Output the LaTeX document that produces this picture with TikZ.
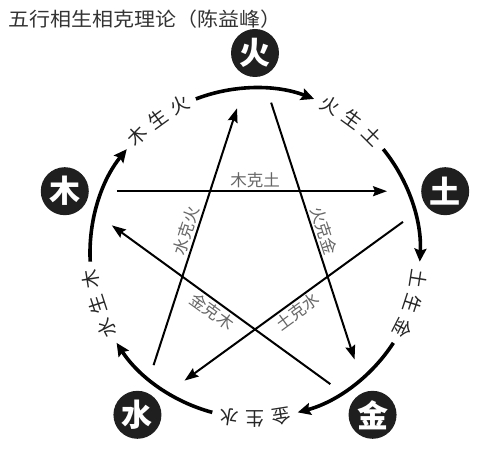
\documentclass[tikz,border=0pt]{standalone}
\usepackage{fontspec}
\usepackage{graphicx}
\newfontfamily\cjk{Noto Sans CJK SC}
\usetikzlibrary{arrows.meta}

\begin{document}
\begin{tikzpicture}[x=1pt,y=1pt,
    elem/.style={circle,fill=black!88,text=white,minimum size=48pt,inner sep=0pt,
      font=\cjk\bfseries\fontsize{31}{31}\selectfont},
    shengarc/.style={line width=3.6pt,-{Stealth[length=13pt,width=12pt,inset=2pt]}},
    kearrow/.style={line width=2pt,-{Stealth[length=14pt,width=10pt,inset=2pt]},
      shorten <=28pt,shorten >=34pt},
    kelabel/.style={sloped,pos=0.5,text=black!60,inner sep=2pt,
      font=\cjk\fontsize{16.5}{16.5}\selectfont},
    shenglabel/.style={text=black!85,inner sep=0pt,font=\cjk\fontsize{19}{19}\selectfont}]
  \useasboundingbox (-255,-196) rectangle (245,253);
  \node[anchor=west,inner sep=0pt,text=black!80,font=\cjk\fontsize{20}{20}\selectfont]
    (title) at (-247,234) {\scalebox{1.05}[0.97]{五行相生相克理论（陈益峰）}};
  \node[elem] (huo) at (90:200) {火};
  \node[elem] (tu) at (18:200) {土};
  \node[elem] (jin) at (-54:200) {金};
  \node[elem] (shui) at (-126:200) {水};
  \node[elem] (mu) at (162:200) {木};
  \draw[kearrow] (mu) -- node[kelabel,above] (ke1) {木克土} (tu);
  \draw[kearrow] (tu) -- node[kelabel,below] (ke2) {土克水} (shui);
  \draw[kearrow] (shui) -- node[kelabel,above] (ke3) {水克火} (huo);
  \draw[kearrow] (huo) -- node[kelabel,above] (ke4) {火克金} (jin);
  \draw[kearrow] (jin) -- node[kelabel,below] (ke5) {金克木} (mu);
  \foreach \a in {90,18,-54,-126,162}
    \draw[shengarc] (\a+21:165) arc[start angle=\a+21,end angle=\a-21,radius=165];
  \foreach \a/\x/\y/\z in {54/火/生/土,-18/土/生/金,-90/金/生/水,-162/水/生/木,126/木/生/火}
    \foreach \d/\c [count=\i] in {9/\x,0/\y,-9/\z}
      \node[shenglabel,rotate=\a+\d-90] (s\a-\i) at (\a+\d:166) {\c};
\end{tikzpicture}
\end{document}
